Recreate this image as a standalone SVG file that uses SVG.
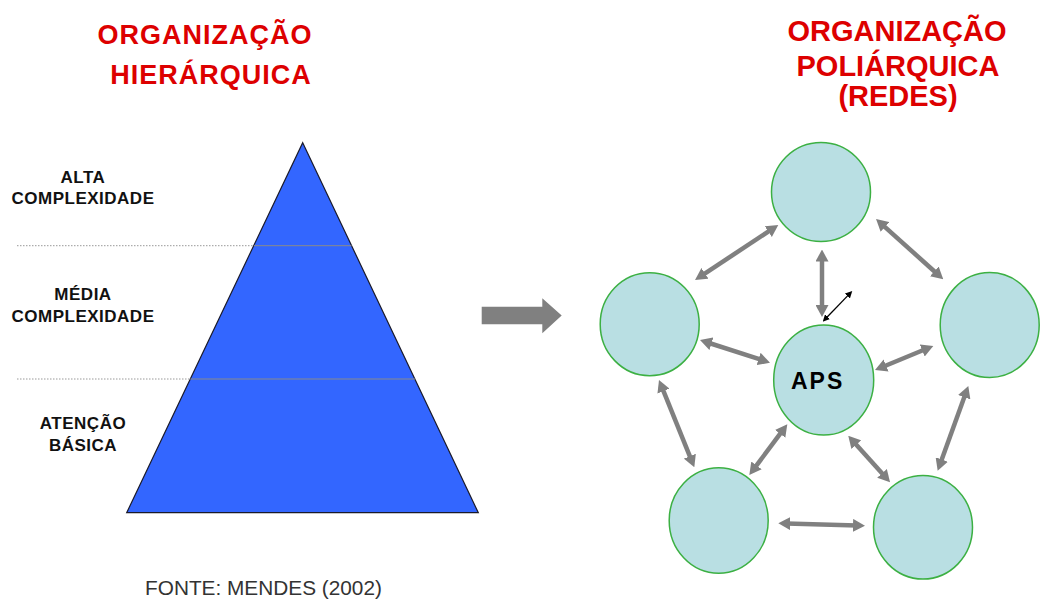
<svg xmlns="http://www.w3.org/2000/svg" width="1041" height="602" viewBox="0 0 1041 602">
<style>
.title{font-family:"Liberation Sans",Arial,sans-serif;font-weight:bold;fill:#DD0000;text-anchor:middle}
.lvl{font-family:"Liberation Sans",Arial,sans-serif;font-weight:bold;font-size:17px;fill:#111;text-anchor:middle;letter-spacing:0.5px}
.node{fill:#B9DFE3;stroke:#3CB043;stroke-width:1.5}
.conn{stroke:#808080;stroke-width:4.5;fill:none}
.dot{stroke:#999;stroke-width:1;stroke-dasharray:1.5 1.5}
</style>
<defs>
<marker id="ah" viewBox="0 0 12 13" refX="4" refY="6.5" markerWidth="12" markerHeight="13" markerUnits="userSpaceOnUse" orient="auto-start-reverse">
<path d="M0,0 L12,6.5 L0,13 z" fill="#808080"/>
</marker>
<marker id="ahk" viewBox="0 0 7 7" refX="3" refY="3.5" markerWidth="7" markerHeight="7" markerUnits="userSpaceOnUse" orient="auto-start-reverse">
<path d="M0,0 L7,3.5 L0,7 z" fill="#000"/>
</marker>
</defs>
<rect width="1041" height="602" fill="#fff"/>

<g id="title-left">
<text class="title" x="205" y="44" font-size="27" letter-spacing="1">ORGANIZAÇÃO</text>
<text class="title" x="211" y="84" font-size="27" letter-spacing="1">HIERÁRQUICA</text>
</g>
<g id="title-right">
<text class="title" x="897" y="41" font-size="29">ORGANIZAÇÃO</text>
<text class="title" x="898" y="76" font-size="29">POLIÁRQUICA</text>
<text class="title" x="898" y="106" font-size="29">(REDES)</text>
</g>

<g id="pyramid">
<polygon points="302.7,142.7 478.3,512.7 126.7,512.7" fill="#3366FF" stroke="#1a1a2a" stroke-width="1.2"/>
<line x1="254" y1="245.7" x2="351.5" y2="245.7" stroke="#8a8a8a" stroke-width="1"/>
<line x1="190.3" y1="379" x2="415.2" y2="379" stroke="#8a8a8a" stroke-width="1"/>
<line class="dot" x1="17" y1="245.7" x2="254" y2="245.7"/>
<line class="dot" x1="17" y1="379" x2="190.3" y2="379"/>
</g>
<g id="labels">
<text class="lvl" x="83" y="183">ALTA</text>
<text class="lvl" x="83" y="204">COMPLEXIDADE</text>
<text class="lvl" x="83" y="300">MÉDIA</text>
<text class="lvl" x="83" y="322">COMPLEXIDADE</text>
<text class="lvl" x="83" y="429">ATENÇÃO</text>
<text class="lvl" x="83" y="451">BÁSICA</text>
</g>

<g id="block-arrow">
<polygon points="481.7,306.7 542.3,306.7 542.3,298.3 561.7,315.5 542.3,333.3 542.3,324.3 481.7,324.3" fill="#808080"/>
</g>

<g id="connectors">
<line class="conn" x1="701.7" y1="275.6" x2="771.6" y2="229.4" marker-start="url(#ah)" marker-end="url(#ah)"/>
<line class="conn" x1="882" y1="224.3" x2="937.3" y2="274" marker-start="url(#ah)" marker-end="url(#ah)"/>
<line class="conn" x1="822" y1="257.5" x2="822" y2="309" marker-start="url(#ah)" marker-end="url(#ah)"/>
<line class="conn" x1="707.6" y1="342.5" x2="762.4" y2="360.2" marker-start="url(#ah)" marker-end="url(#ah)"/>
<line class="conn" x1="925.9" y1="349" x2="882.4" y2="367" marker-start="url(#ah)" marker-end="url(#ah)"/>
<line class="conn" x1="662" y1="387.4" x2="691.3" y2="459.9" marker-start="url(#ah)" marker-end="url(#ah)"/>
<line class="conn" x1="965.6" y1="393.5" x2="940.4" y2="463.2" marker-start="url(#ah)" marker-end="url(#ah)"/>
<line class="conn" x1="782.5" y1="430.7" x2="754.1" y2="468.6" marker-start="url(#ah)" marker-end="url(#ah)"/>
<line class="conn" x1="853.6" y1="441.7" x2="884.7" y2="476.3" marker-start="url(#ah)" marker-end="url(#ah)"/>
<line class="conn" x1="786.3" y1="523.5" x2="857" y2="525.5" marker-start="url(#ah)" marker-end="url(#ah)"/>
<line x1="825.5" y1="318.8" x2="849.5" y2="293.9" stroke="#000" stroke-width="1.3" marker-start="url(#ahk)" marker-end="url(#ahk)"/>
</g>

<g id="node-top"><ellipse class="node" cx="821" cy="192" rx="49.5" ry="49.5"/></g>
<g id="node-left"><ellipse class="node" cx="649.7" cy="324.2" rx="49.5" ry="51.5"/></g>
<g id="node-right"><ellipse class="node" cx="989.7" cy="325" rx="49.5" ry="52.5"/></g>
<g id="node-aps"><ellipse class="node" cx="823.7" cy="380" rx="50" ry="55"/>
<text x="791" y="388.5" font-family="Liberation Sans, Arial, sans-serif" font-weight="bold" font-size="23" letter-spacing="2" fill="#000">APS</text></g>
<g id="node-bottom-left"><ellipse class="node" cx="718.7" cy="520.5" rx="49.5" ry="52.8"/></g>
<g id="node-bottom-right"><ellipse class="node" cx="923" cy="527.3" rx="49.5" ry="51.7"/></g>

<g id="source">
<text x="145" y="595" font-family="Liberation Sans, Arial, sans-serif" font-size="20.8" fill="#333">FONTE: MENDES (2002)</text>
</g>
</svg>
